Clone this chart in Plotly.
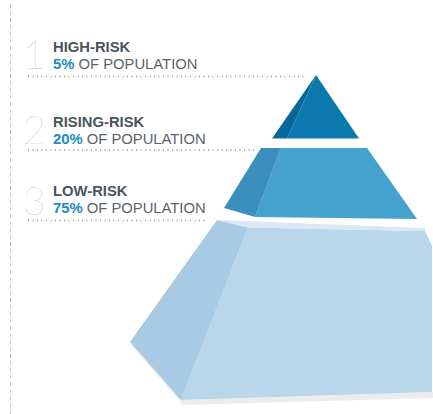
import plotly.graph_objects as go

# ---- data ----
tier_numbers = ["1", "2", "3"]
tier_names = ["HIGH-RISK", "RISING-RISK", "LOW-RISK"]
tier_pcts = [5, 20, 75]

# ---- layout constants (pixel space, y down) ----
W, H = 433, 414
FONT = "Liberation Sans"
DARK = "#4a545d"
BLUE = "#1b8cc3"
GREY_TXT = "#5a636b"
GREY_NUM = "#c3c7cb"

# (text block centre y, numeral centre y, dotted line y, dotted line end x)
label_pos = [(55.5, 54, 76.5, 307), (130, 128.5, 150, 256), (199, 199.5, 220.5, 208)]

pieces = [
    ([(132, 346), (183, 405), (433, 398), (433, 392), (181, 400), (130, 342)], "rgba(150,150,150,0.18)"),
    ([(248, 227.5), (425, 231), (432, 246), (432, 392), (181, 400)], "#b9d6ea"),
    ([(217, 220), (248, 227.5), (181, 400), (130, 342)], "#a8cae2"),
    ([(217, 220), (425, 228), (425, 231), (248, 227.5)], "#d9e8f2"),
    ([(281, 148), (367, 148), (417, 219), (255, 217)], "#45a1ce"),
    ([(261, 148), (281, 148), (255, 217), (224, 208)], "#3b8fbf"),
    ([(316, 75), (359, 138.5), (287, 138.5)], "#0b78ae"),
    ([(316, 75), (287, 138.5), (272, 138.5)], "#06679a"),
]

fig = go.Figure()
for poly, col in pieces:
    xs = [p[0] for p in poly] + [poly[0][0]]
    ys = [p[1] for p in poly] + [poly[0][1]]
    fig.add_trace(go.Scatter(x=xs, y=ys, mode="lines", fill="toself", fillcolor=col,
                             line=dict(width=0, color=col), hoverinfo="skip", showlegend=False))

fig.add_trace(go.Scatter(x=[10.5, 10.5], y=[4, 414], mode="lines",
                         line=dict(color="#c9c9c9", width=1, dash="4px,3px"),
                         hoverinfo="skip", showlegend=False))

annotations = []
for i in range(3):
    y_txt, y_num, y_dot, x_dot_end = label_pos[i]
    fig.add_trace(go.Scatter(x=[28, x_dot_end], y=[y_dot, y_dot], mode="lines",
                             line=dict(color="#8e959b", width=1.4, dash="1px,3.5px"),
                             hoverinfo="skip", showlegend=False))
    annotations.append(dict(x=47, y=y_num, text=tier_numbers[i], xanchor="right", yanchor="middle",
                            showarrow=False, borderpad=0,
                            font=dict(family="Lato", size=39, color=GREY_NUM, weight=100)))
    txt = ("<span style='font-size:14.8px;color:%s'><b>%s</b></span><br>"
           "<span style='font-size:14.8px'><b><span style='color:%s'>%d%%</span></b> OF POPULATION</span>"
           % (DARK, tier_names[i], BLUE, tier_pcts[i]))
    annotations.append(dict(x=52, y=y_txt, text=txt, xanchor="left", yanchor="middle", align="left",
                            showarrow=False, borderpad=0,
                            font=dict(family=FONT, size=12.8, color=GREY_TXT)))

fig.update_layout(
    width=W, height=H, margin=dict(l=0, r=0, t=0, b=0),
    paper_bgcolor="white", plot_bgcolor="white",
    xaxis=dict(range=[0, W], visible=False, fixedrange=True),
    yaxis=dict(range=[H, 0], visible=False, fixedrange=True),
    annotations=annotations, showlegend=False,
)
fig.write_html("out.html")
